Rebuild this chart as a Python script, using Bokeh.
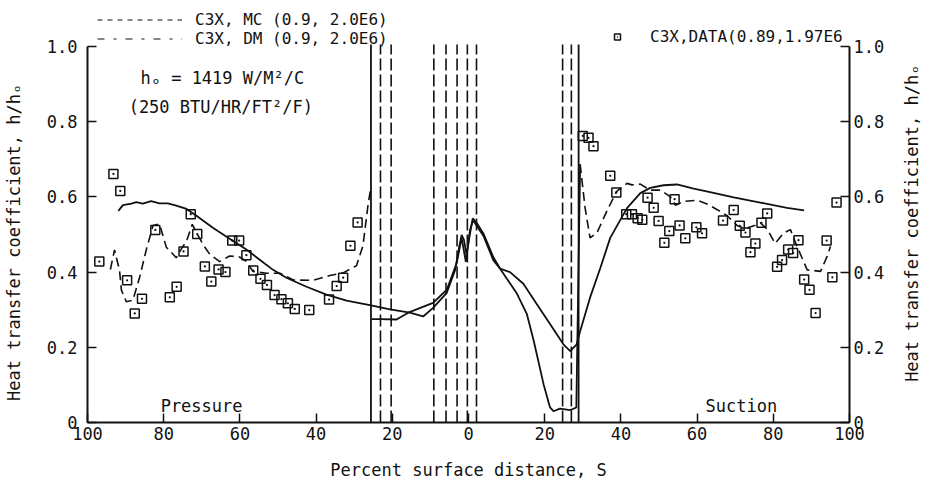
import math
from bokeh.plotting import figure
from bokeh.models import LinearAxis, FixedTicker, Range1d, Legend, LegendItem, Label
from bokeh.embed import file_html
from bokeh.resources import INLINE

# ---------------- data (pressure side = negative x, suction side = positive x) ----------------
x_ticks = [-100, -80, -60, -40, -20, 0, 20, 40, 60, 80, 100]
x_tick_labels = ["100", "80", "60", "40", "20", "0", "20", "40", "60", "80", "100"]
y_ticks = [0, 0.2, 0.4, 0.6, 0.8, 1.0]
y_tick_labels = ["0", "0.2", "0.4", "0.6", "0.8", "1.0"]

mc_x = [-91.9, -90.7, -88.5, -87.2, -85.5, -83.3, -81.1, -78.9, -76.7, -74.0, -71.4, -67.1, -62.7,
        -58.3, -54.8, -51.3, -47.8, -42.5, -37.3, -32.0, -25.9, -20.6, -15.4, -11.9, -9.3, -5.7,
        -3.5, -2.5, -1.8, -1.2, -0.5, 0.1, 1.1, 2.0, 3.9, 6.5, 8.3, 10.9, 14.4, 17.9, 21.4, 24.9,
        26.7, 28.4, 29.3, 31.9, 34.6, 37.2, 41.6, 45.1, 47.7, 51.2, 54.7, 59.1, 63.4, 69.6, 76.6,
        83.6, 88.1]
mc_y = [0.563, 0.578, 0.582, 0.586, 0.582, 0.589, 0.583, 0.583, 0.577, 0.568, 0.550, 0.518, 0.489,
        0.460, 0.433, 0.406, 0.385, 0.361, 0.340, 0.324, 0.312, 0.301, 0.292, 0.282, 0.305, 0.345,
        0.406, 0.464, 0.499, 0.486, 0.445, 0.485, 0.543, 0.533, 0.503, 0.440, 0.409, 0.400, 0.369,
        0.315, 0.262, 0.208, 0.190, 0.208, 0.243, 0.332, 0.411, 0.491, 0.570, 0.610, 0.624, 0.631,
        0.633, 0.622, 0.613, 0.599, 0.585, 0.571, 0.564]

dm_press_x = [-94.0, -92.9, -91.6, -91.1, -89.8, -88.1, -86.3, -84.6, -82.8, -81.1, -79.3, -77.6,
              -76.7, -75.4, -74.0, -72.5, -71.4, -69.7, -67.9, -65.3, -62.7, -60.1, -58.3, -56.6,
              -53.0, -49.5, -46.0, -40.8, -36.4, -32.9, -29.4, -27.7, -26.4, -25.7]
dm_press_y = [0.407, 0.459, 0.405, 0.352, 0.321, 0.325, 0.387, 0.458, 0.524, 0.528, 0.466, 0.448,
              0.438, 0.461, 0.483, 0.527, 0.505, 0.474, 0.447, 0.428, 0.443, 0.440, 0.429, 0.402,
              0.397, 0.397, 0.379, 0.378, 0.391, 0.398, 0.417, 0.470, 0.576, 0.621]

dm_mid_x = [-25.5, -23.3, -18.9, -15.8, -9.3, -5.7, -3.1, -1.8, -0.7, 0.4, 1.2, 3.9, 6.5, 8.3,
            12.7, 15.3, 17.1, 19.7, 21.4, 22.3, 24.0, 26.7, 28.3, 29.3]
dm_mid_y = [0.275, 0.275, 0.274, 0.292, 0.318, 0.353, 0.424, 0.491, 0.427, 0.512, 0.538, 0.497,
            0.432, 0.409, 0.343, 0.289, 0.218, 0.102, 0.040, 0.030, 0.037, 0.033, 0.040, 0.687]

dm_suct_x = [29.3, 30.6, 31.9, 33.7, 36.3, 38.9, 41.6, 42.9, 45.1, 47.7, 50.4, 53.0, 54.3, 56.5,
             60.1, 62.6, 65.3, 67.9, 70.6, 72.7, 74.9, 76.6, 78.4, 80.5, 82.7, 84.5, 86.2, 88.9,
             90.6, 92.4, 94.1, 95.0]
dm_suct_y = [0.687, 0.571, 0.491, 0.504, 0.562, 0.615, 0.636, 0.632, 0.634, 0.618, 0.618, 0.600,
             0.578, 0.588, 0.591, 0.581, 0.566, 0.550, 0.523, 0.516, 0.523, 0.531, 0.514, 0.476,
             0.504, 0.513, 0.469, 0.406, 0.404, 0.402, 0.441, 0.468]

data_x = [-96.9, -93.2, -91.4, -89.6, -87.6, -85.7, -82.2, -78.4, -76.6, -74.8, -72.9, -71.2,
          -69.2, -67.5, -65.6, -63.8, -62.0, -60.2, -58.3, -56.5, -54.6, -52.9, -50.9, -49.1,
          -47.4, -45.6, -41.8, -36.6, -34.6, -32.9, -31.0, -29.1,
          30.0, 31.5, 32.8, 37.2, 38.8, 41.4, 42.9, 44.4, 45.6, 47.0, 48.6, 49.9, 51.4, 52.7,
          54.1, 55.4, 56.9, 59.8, 61.3, 66.8, 69.6, 71.2, 72.7, 74.0, 75.3, 76.9, 78.4, 81.0,
          82.3, 83.9, 85.2, 86.6, 88.1, 89.5, 91.1, 94.0, 95.5, 96.6]
data_y = [0.428, 0.661, 0.616, 0.378, 0.290, 0.329, 0.512, 0.333, 0.361, 0.455, 0.554, 0.501,
          0.415, 0.375, 0.407, 0.400, 0.484, 0.484, 0.445, 0.404, 0.382, 0.366, 0.339, 0.328,
          0.317, 0.302, 0.299, 0.327, 0.363, 0.385, 0.470, 0.532,
          0.762, 0.757, 0.735, 0.656, 0.612, 0.554, 0.554, 0.543, 0.539, 0.598, 0.571, 0.536,
          0.478, 0.509, 0.594, 0.524, 0.490, 0.519, 0.503, 0.537, 0.565, 0.523, 0.505, 0.453,
          0.476, 0.531, 0.556, 0.414, 0.432, 0.460, 0.451, 0.485, 0.380, 0.353, 0.291, 0.484,
          0.386, 0.585]

vline_solid_x = [-25.6, 28.9]
vline_dashed_x = [-23.1, -20.3, -9.1, -5.9, -3.0, -0.3, 2.1, 24.7, 27.0]

# ---------------- styling ----------------
FONT = "DejaVu Sans Mono"
INK = "#111111"
FS = "17px"
VTOP = 1.005

p = figure(width=930, height=487, output_backend="svg", toolbar_location=None,
           x_range=Range1d(-100, 100), y_range=Range1d(0, 422 / 376),
           min_border_left=87, min_border_right=81, min_border_top=0, min_border_bottom=65,
           background_fill_color="white", border_fill_color="white")
p.outline_line_color = None
p.xgrid.visible = False
p.ygrid.visible = False

right_axis = LinearAxis()
p.add_layout(right_axis, "right")

axis_title = "Heat transfer coefficient, h/h\u2092"
for ax in [p.xaxis[0], p.yaxis[0], right_axis]:
    ax.major_tick_in = 9
    ax.major_tick_out = 0
    ax.minor_tick_in = 0
    ax.minor_tick_out = 0
    ax.axis_line_width = 2
    ax.axis_line_color = INK
    ax.major_tick_line_width = 1.5
    ax.major_tick_line_color = INK
    ax.major_label_text_font = FONT
    ax.major_label_text_font_size = FS
    ax.major_label_text_color = INK
    ax.axis_label_text_font = FONT
    ax.axis_label_text_font_size = FS
    ax.axis_label_text_font_style = "normal"
    ax.axis_label_text_color = INK

xax = p.xaxis[0]
xax.ticker = FixedTicker(ticks=x_ticks)
xax.major_label_overrides = dict(zip(x_ticks, x_tick_labels))
xax.axis_label = "Percent surface distance, S"
xax.major_label_standoff = 4
xax.axis_label_standoff = 17

for ax in [p.yaxis[0], right_axis]:
    ax.ticker = FixedTicker(ticks=y_ticks)
    ax.major_label_overrides = dict(zip(y_ticks, y_tick_labels))
    ax.bounds = (0, 1)

p.yaxis[0].major_label_standoff = 10
right_axis.major_label_standoff = 4

# axis titles on both sides, reading bottom to top (placed in the side panels)
left_title = Label(x=-119.4, y=0.479, text=axis_title, angle=math.pi / 2, text_font=FONT,
                   text_font_size=FS, text_align="center", text_baseline="middle",
                   text_color=INK)
p.add_layout(left_title, "left")
right_title = Label(x=116.5, y=0.53, text=axis_title, angle=math.pi / 2, text_font=FONT,
                    text_font_size=FS, text_align="center", text_baseline="middle",
                    text_color=INK)
p.add_layout(right_title, "right")

# vertical reference lines
p.segment(x0=vline_solid_x, y0=0, x1=vline_solid_x, y1=VTOP, line_color=INK, line_width=1.8)
p.segment(x0=vline_dashed_x, y0=0, x1=vline_dashed_x, y1=VTOP, line_color=INK, line_width=1.6,
          line_dash="12 4")

# curves
p.line(mc_x, mc_y, line_color=INK, line_width=1.8)
p.line(dm_press_x, dm_press_y, line_color=INK, line_width=1.6, line_dash="9 5")
p.line(dm_mid_x, dm_mid_y, line_color=INK, line_width=1.8)
p.line(dm_suct_x, dm_suct_y, line_color=INK, line_width=1.6, line_dash="9 5")

# data
data_r = p.scatter(data_x, data_y, marker="square_dot", size=9, line_color=INK, fill_color=None,
                   line_width=1.5)

# legend proxies (zero-length lines, used only for the legend samples)
mc_proxy = p.line([mc_x[0], mc_x[0]], [mc_y[0], mc_y[0]], line_color=INK, line_width=1.2,
                  line_dash="5 5")
dm_proxy = p.line([dm_press_x[0], dm_press_x[0]], [dm_press_y[0], dm_press_y[0]], line_color=INK,
                  line_width=1.2, line_dash="7 9 3 9")

LEG = dict(glyph_height=15, label_height=15, spacing=0, padding=0, margin=0,
           border_line_color=None, background_fill_alpha=0, label_text_font=FONT,
           label_text_font_size="16px", label_text_color=INK)
leg_mc = Legend(items=[LegendItem(label="C3X, MC (0.9, 2.0E6)", renderers=[mc_proxy])],
                location=(10, 393), glyph_width=85, label_standoff=13, **LEG)
leg_dm = Legend(items=[LegendItem(label="C3X, DM (0.9, 2.0E6)", renderers=[dm_proxy])],
                location=(10, 374), glyph_width=85, label_standoff=13, **LEG)
leg_data = Legend(items=[LegendItem(label="C3X,DATA(0.89,1.97E6", renderers=[data_r])],
                  location=(520, 376), glyph_width=20, label_standoff=23, **LEG)
p.add_layout(leg_mc)
p.add_layout(leg_dm)
p.add_layout(leg_data)

# annotations
for txt, lx, ly in [("h\u2092 = 1419 W/M\u00b2/C", -86.1, 0.915),
                    ("(250 BTU/HR/FT\u00b2/F)", -89.2, 0.840),
                    ("Pressure", -80.8, 0.045),
                    ("Suction", 62.2, 0.045)]:
    p.add_layout(Label(x=lx, y=ly, text=txt, text_font=FONT, text_font_size=FS,
                       text_baseline="middle", text_align="left", text_color=INK))

open("out.html", "w").write(file_html(p, INLINE))
